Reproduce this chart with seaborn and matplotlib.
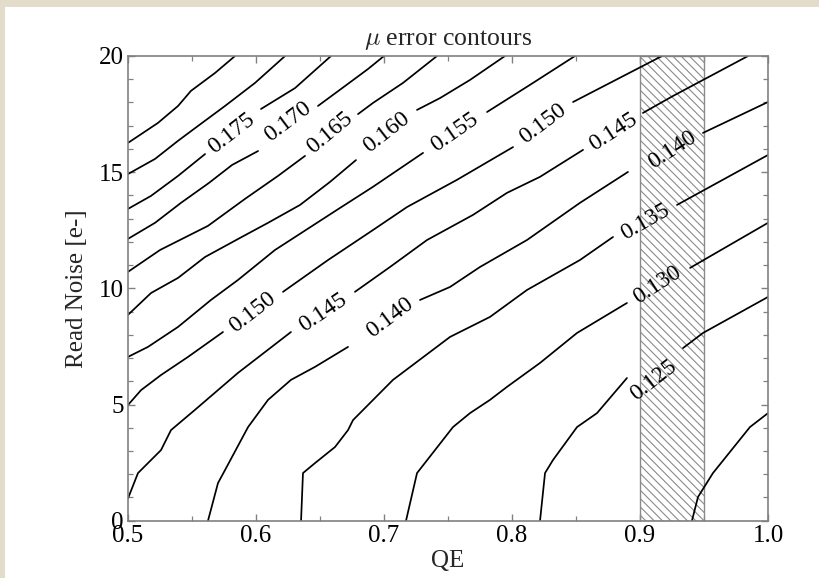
import numpy as np
import pandas as pd
import matplotlib
matplotlib.use("Agg")
import matplotlib.pyplot as plt
import seaborn as sns
from matplotlib.patches import Rectangle
from matplotlib.ticker import MultipleLocator

# ---------------- data ----------------
# contour levels and their traced paths (QE, read noise); None marks a label gap
levels = [0.185, 0.180, 0.175, 0.170, 0.165, 0.160, 0.155, 0.150, 0.145, 0.140, 0.135, 0.130, 0.125, 0.120]

c185_qe = [0.500, 0.5234, 0.5391, 0.5492, 0.5680, 0.5836]
c185_rn = [16.26, 17.12, 17.85, 18.50, 19.27, 20.0]

c180_qe = [0.500, 0.5211, 0.5391, 0.5547, 0.5758, 0.5992, 0.6227]
c180_rn = [14.92, 15.57, 16.35, 16.99, 17.85, 18.84, 20.0]

c175_qe = [0.500, 0.5180, 0.5391, 0.5602, None, 0.6039, 0.6305, 0.6586]
c175_rn = [13.42, 13.98, 14.84, 15.78, None, 17.72, 18.62, 20.0]

c170_qe = [0.500, 0.5211, 0.5414, 0.5633, 0.5813, 0.6016, None, 0.6484, 0.6664, 0.6875, 0.700]
c170_rn = [12.13, 12.82, 13.68, 14.54, 15.31, 15.91, None, 17.85, 18.58, 19.44, 20.0]

c165_qe = [0.500, 0.5250, 0.5625, 0.5914, 0.6172, 0.6383, None, 0.6797, 0.6914, 0.7148, 0.7414]
c165_rn = [10.71, 11.65, 12.69, 13.85, 14.84, 15.70, None, 17.50, 17.98, 18.84, 20.0]

c160_qe = [0.500, 0.5180, 0.5391, 0.5602, 0.5875, 0.6094, 0.6344, 0.6578, 0.6781, None, 0.7258, 0.7438, 0.7672, 0.7945]
c160_rn = [8.86, 9.80, 10.45, 11.35, 12.17, 12.82, 13.59, 14.58, 15.52, None, 17.68, 18.19, 18.97, 20.0]

c155_qe = [0.500, 0.5156, 0.5391, 0.5648, 0.5859, 0.6148, 0.6656, 0.6914, 0.7305, None, 0.7805, 0.8141, 0.8492]
c155_rn = [7.05, 7.48, 8.34, 9.50, 10.36, 11.65, 13.46, 14.37, 15.83, None, 17.59, 18.76, 20.0]

c150_qe = [0.500, 0.5102, 0.5258, 0.5469, 0.5742, None, 0.6211, 0.6563, 0.6914, 0.7180, 0.7570, 0.8008, None, 0.8477, 0.9172]
c150_rn = [4.98, 5.62, 6.27, 7.05, 8.12, None, 9.85, 11.22, 12.51, 13.50, 14.67, 16.08, None, 18.02, 20.0]

c145_qe = [0.500, 0.5078, 0.5258, 0.5336, 0.5523, 0.5859, 0.6273, None, 0.6773, 0.7047, 0.7336, 0.7695, 0.7961, 0.8219, 0.8555, None, 0.9023, 0.9258, 0.9844]
c145_rn = [0.96, 2.05, 3.04, 3.90, 4.77, 6.36, 8.12, None, 9.85, 10.92, 12.08, 13.16, 14.11, 14.80, 15.96, None, 17.55, 18.28, 20.0]

c140_qe = [0.5625, 0.5703, 0.5758, 0.5938, 0.6094, 0.6273, 0.6461, 0.6719, None, 0.7281, 0.7516, 0.7750, 0.8117, 0.8531, 0.8906, None, 0.9492, 1.000]
c140_rn = [0.0, 1.62, 2.18, 4.03, 5.20, 6.06, 6.62, 7.48, None, 9.50, 10.06, 10.92, 12.08, 13.68, 15.01, None, 16.69, 18.02]

c135_qe = [0.6352, 0.6367, 0.6461, 0.6617, 0.6719, 0.6758, 0.7070, 0.7516, 0.7828, 0.8117, 0.8531, 0.8789, None, 0.9289, 1.000]
c135_rn = [0.0, 2.05, 2.48, 3.17, 3.90, 4.33, 6.06, 7.91, 8.77, 9.93, 11.22, 12.21, None, 13.59, 15.74]

c130_qe = [0.7172, 0.7258, 0.7539, 0.7672, 0.7828, 0.7961, 0.8219, 0.8508, 0.8898, None, 0.9391, 1.000]
c130_rn = [0.0, 2.05, 4.03, 4.63, 5.20, 5.76, 6.79, 8.08, 9.37, None, 10.88, 12.82]

c125_qe = [0.8219, 0.8258, 0.8320, 0.8508, 0.8664, 0.8898, None, 0.9336, 0.9492, 1.000]
c125_rn = [0.0, 2.05, 2.61, 4.03, 4.63, 6.14, None, 7.43, 8.08, 9.63]

c120_qe = [0.9406, 0.9453, 0.9570, 0.9859, 1.000]
c120_rn = [0.0, 1.02, 2.05, 4.03, 4.63]

contour_qe = [c185_qe, c180_qe, c175_qe, c170_qe, c165_qe, c160_qe, c155_qe,
              c150_qe, c145_qe, c140_qe, c135_qe, c130_qe, c125_qe, c120_qe]
contour_rn = [c185_rn, c180_rn, c175_rn, c170_rn, c165_rn, c160_rn, c155_rn,
              c150_rn, c145_rn, c140_rn, c135_rn, c130_rn, c125_rn, c120_rn]

# contour labels
label_text = ['0.175', '0.170', '0.165', '0.160', '0.155', '0.150', '0.145',
              '0.140', '0.135', '0.130', '0.125', '0.150', '0.145', '0.140']
label_qe = [0.5813, 0.6250, 0.6578, 0.7023, 0.7555, 0.8242, 0.8789,
            0.9250, 0.9039, 0.9133, 0.9109, 0.5977, 0.6523, 0.7047]
label_rn = [16.69, 17.16, 16.69, 16.73, 16.73, 17.07, 16.73,
            15.96, 12.85, 10.15, 6.06, 8.98, 8.94, 8.73]
label_rot = [38, 37, 40, 38, 35, 37, 33, 33, 30, 33, 38, 38, 34, 37]

# shaded QE band
band_qe = [0.90, 0.95]

x_ticks = [0.5, 0.6, 0.7, 0.8, 0.9, 1.0]
x_ticklabels = ['0.5', '0.6', '0.7', '0.8', '0.9', '1.0']
y_ticks = [0, 5, 10, 15, 20]

# ---------------- build long-form table ----------------
rows = []
seg = 0
for lev, qs, rs in zip(levels, contour_qe, contour_rn):
    for q, r in zip(qs, rs):
        if q is None:
            seg += 1
            continue
        rows.append({'level': lev, 'seg': seg, 'qe': q, 'rn': r})
    seg += 1
df = pd.DataFrame(rows)

# ---------------- styling ----------------
sns.set_style("ticks")
plt.rcParams['font.family'] = ['Liberation Serif', 'DejaVu Serif']
plt.rcParams['mathtext.fontset'] = 'cm'
plt.rcParams['hatch.linewidth'] = 0.8
plt.rcParams['hatch.color'] = '#8a8a8a'

FS = 18

fig = plt.figure(figsize=(8.19, 5.78), dpi=100)
fig.patch.set_facecolor('#e4dccb')
fig.add_artist(Rectangle((5 / 819, 0), 1 - 5 / 819, 571 / 578, transform=fig.transFigure,
                         facecolor='white', edgecolor='none', zorder=-5))

ax = fig.add_axes([128 / 819, (578 - 520.7) / 578, 640 / 819, 464.7 / 578])
ax.set_facecolor('white')

ax.axvspan(band_qe[0], band_qe[1], facecolor='none', edgecolor='#8a8a8a',
           hatch='\\\\\\\\', linewidth=1.0, zorder=1)

sns.lineplot(data=df, x='qe', y='rn', units='seg', estimator=None, sort=False,
             color='black', linewidth=1.25, ax=ax, legend=False, zorder=2)

for t, q, r, a in zip(label_text, label_qe, label_rn, label_rot):
    ax.text(q, r, t, rotation=a, ha='center', va='center', rotation_mode='anchor',
            fontsize=17, color='black', zorder=3)

ax.set_xlim(0.5, 1.0)
ax.set_ylim(0, 20)
ax.set_xticks(x_ticks)
ax.set_xticklabels(x_ticklabels)
ax.set_yticks(y_ticks)
ax.xaxis.set_minor_locator(MultipleLocator(0.05))
ax.yaxis.set_minor_locator(MultipleLocator(1))

for s in ax.spines.values():
    s.set_color('#808080')
    s.set_linewidth(1.2)
    s.set_visible(True)

ax.tick_params(which='both', direction='in', top=True, right=True, color='#808080',
               labelsize=FS, labelcolor='black')
ax.tick_params(which='major', length=5, width=1.0, pad=3)
ax.tick_params(which='minor', length=3.5, width=0.9)

ax.set_xlabel('QE', fontsize=FS, labelpad=2)
ax.set_ylabel('Read Noise [e-]', fontsize=FS, labelpad=8)
ax.set_title(r'$\mu$ error contours', fontsize=18.5, pad=8)

fig.savefig('out.png', dpi=100, facecolor=fig.get_facecolor())
